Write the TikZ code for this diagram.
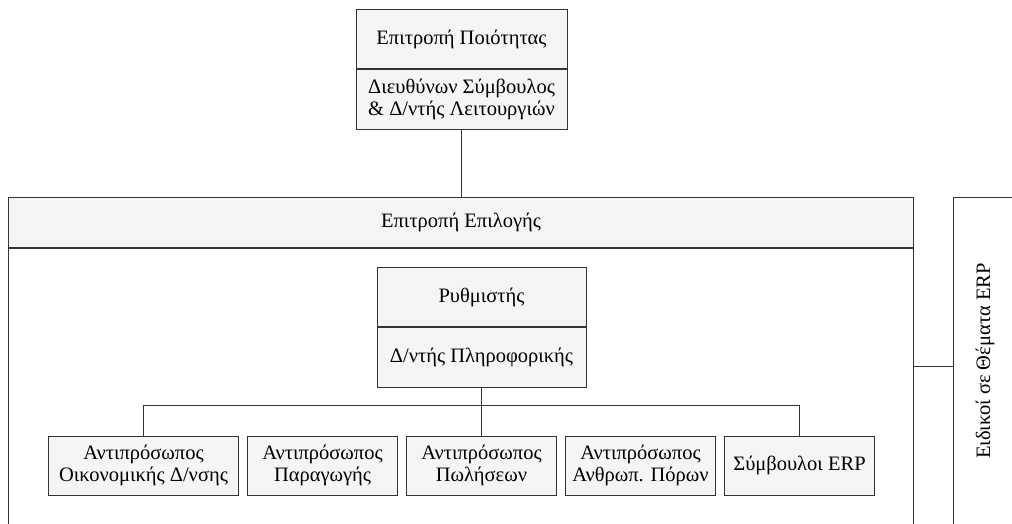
\documentclass[tikz,border=0pt]{standalone}
\usepackage{fontspec}
\setmainfont{Liberation Serif}
\definecolor{boxfill}{HTML}{F5F5F5}
\definecolor{linec}{HTML}{333333}
\begin{document}
\begin{tikzpicture}[x=1pt,y=-1pt,
  every node/.style={font=\fontsize{20.5}{22.5}\selectfont},
  box/.style={draw=linec, fill=boxfill, line width=1pt, inner sep=0pt, align=center, anchor=north west},
  conn/.style={draw=linec, line width=1pt}]
\useasboundingbox (0,0) rectangle (1012,524);
\clip (0,0) rectangle (1012,524);
% top box
\node[box, minimum width=211, minimum height=59] (q1) at (355.5,9) {Επιτροπή Ποιότητας};
\node[box, minimum width=211, minimum height=60] (q2) at (q1.south west) {Διευθύνων Σύμβουλος\\ \& Δ/ντής Λειτουργιών};
% selection committee
\node[box, minimum width=905, minimum height=50] (sel) at (8,197) {Επιτροπή Επιλογής};
\node[draw=linec, line width=1pt, fill=white, inner sep=0pt, minimum width=905, minimum height=330, anchor=north west] (selbody) at (sel.south west) {};
\draw[draw=linec, line width=1.6pt] (sel.south west) -- (sel.south east);
\draw[conn] (q2.south) -- (q2.south |- sel.north);
% ERP experts
\node[draw=linec, line width=1pt, fill=white, inner sep=0pt, minimum width=100, minimum height=380, anchor=north west] (erp) at (953,197) {};
\node[rotate=90] (erpt) at (985,361) {Ειδικοί σε Θέματα ERP};
\coordinate (c) at (913,366);
\draw[conn] (c) -- (erp.west |- c);
% coordinator
\node[box, minimum width=209, minimum height=59] (r1) at (376.5,267) {Ρυθμιστής};
\node[box, minimum width=209, minimum height=60] (r2) at (r1.south west) {Δ/ντής Πληροφορικής};
% representatives
\node[box, minimum width=190, minimum height=59] (b1) at (48,435.5) {Αντιπρόσωπος\\Οικονομικής Δ/νσης};
\node[box, minimum width=150, minimum height=59] (b2) at (247,435.5) {Αντιπρόσωπος\\Παραγωγής};
\node[box, minimum width=150, minimum height=59] (b3) at (406,435.5) {Αντιπρόσωπος\\Πωλήσεων};
\node[box, minimum width=150, minimum height=59] (b4) at (565,435.5) {Αντιπρόσωπος\\Ανθρωπ. Πόρων};
\node[box, minimum width=150, minimum height=59] (b5) at (724,435.5) {Σύμβουλοι ERP};
\draw[conn] (r2.south) -- (b3.north);
\draw[conn] (b1.north) -- ++(0,-30) -| (b5.north);
\end{tikzpicture}
\end{document}
